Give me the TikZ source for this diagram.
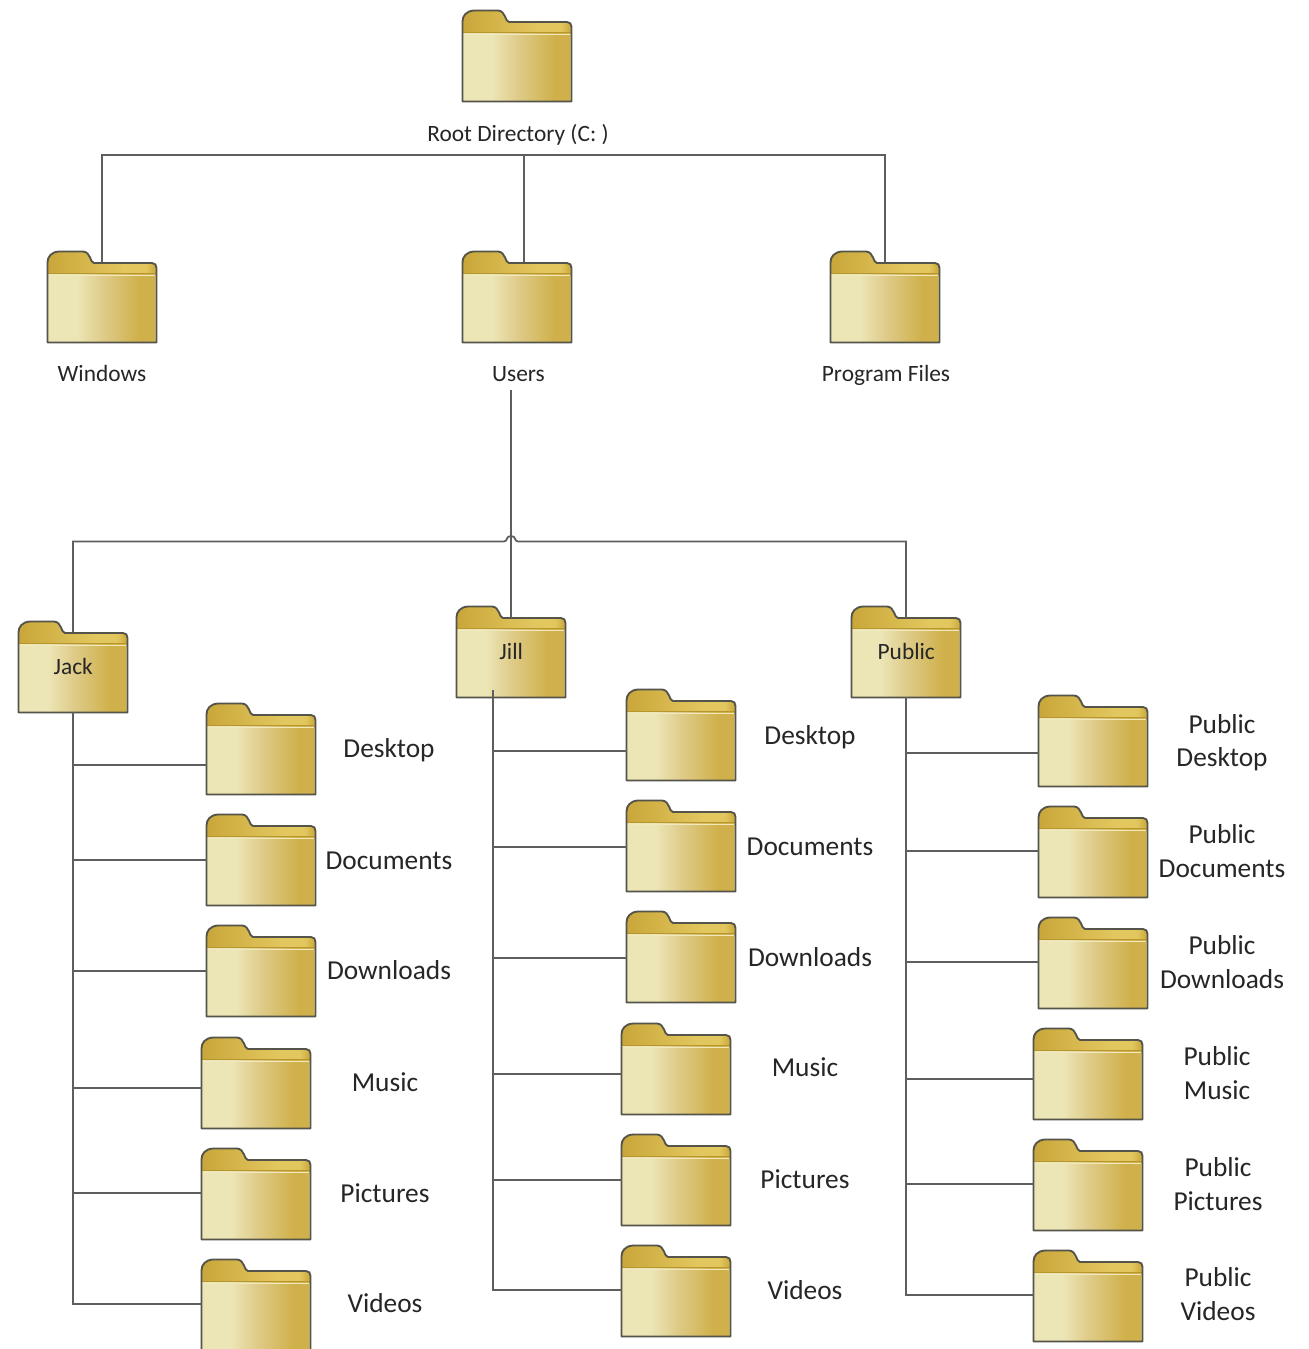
\documentclass[tikz,border=0pt]{standalone}
\usepackage{fontspec}
\setmainfont{Carlito}
\definecolor{fline}{HTML}{55544A}
\definecolor{wire}{HTML}{5E5E5E}
\definecolor{tabA}{HTML}{C9A63A}
\definecolor{tabB}{HTML}{E2C75E}
\definecolor{tabEdge}{HTML}{B8962E}
\definecolor{hilite}{HTML}{F1E8BC}
\definecolor{hiliteB}{HTML}{E6D68E}
\definecolor{txt}{HTML}{262626}
\definecolor{fl}{HTML}{ECE6B6}
\definecolor{fm}{HTML}{DFCC8A}
\definecolor{fd}{HTML}{CFB04A}
\pgfdeclarehorizontalshading{fbody}{100bp}{color(0bp)=(fl);color(25bp)=(fl);color(38bp)=(fl);color(50bp)=(fm);color(67bp)=(fd);color(100bp)=(fd)}
\pgfdeclarehorizontalshading{ftab}{100bp}{color(0bp)=(tabA);color(25bp)=(tabA);color(60bp)=(tabB);color(70bp)=(tabB);color(75bp)=(tabA);color(100bp)=(tabA)}
\tikzset{
  folderfront/.style={shading=fbody,rectangle,inner sep=0pt,minimum width=81.75bp,minimum height=51.4bp,anchor=north west,text=txt,font=\fontsize{17.6}{20}\selectfont},
  foldertab/.style={shading=ftab},
  folderedge/.style={draw=fline,line width=1.4pt,line join=round},
  smalllabel/.style={text=txt,font=\fontsize{17.6}{20}\selectfont,inner sep=0pt,align=center},
  biglabel/.style={text=txt,font=\fontsize{20.6}{25}\selectfont,inner sep=0pt,align=center},
  wireline/.style={draw=wire,line width=1.3pt},
}
% \folder{name}{left}{top}{text inside}
\newcommand{\folder}[4]{%
  \path[foldertab] (#2+0.5,#3+11.5) -- (#2+0.5,#3+23) -- (#2+109.5,#3+23) -- (#2+109.5,#3+17) .. controls (#2+109.5,#3+14) and (#2+108,#3+12) .. (#2+105,#3+12)
     -- (#2+47,#3+12) .. controls (#2+43,#3+12) and (#2+44,#3+1) .. (#2+36,#3+0.5)
     -- (#2+12,#3+0.5) .. controls (#2+4,#3+1) and (#2+0.5,#3+6) .. (#2+0.5,#3+11.5) -- cycle;
  \draw[tabEdge,line width=0.9pt] (#2+1,#3+22.5) -- (#2+109,#3+22.5);
  \node[folderfront] (#1) at (#2+0.5,#3+23) {\raisebox{3bp}[0pt][0pt]{#4}};
  \draw[hilite,line width=0.9pt] (#2+1,#3+24.5) -- (#2+108,#3+24.5);
  \draw[hiliteB,line width=0.7pt] (#2+108,#3+24.5) -- (#2+108,#3+90);
  \path[folderedge] (#2+0.5,#3+11.5) -- (#2+0.5,#3+91.5) -- (#2+109.5,#3+91.5) -- (#2+109.5,#3+17) .. controls (#2+109.5,#3+14) and (#2+108,#3+12) .. (#2+105,#3+12)
     -- (#2+47,#3+12) .. controls (#2+43,#3+12) and (#2+44,#3+1) .. (#2+36,#3+0.5)
     -- (#2+12,#3+0.5) .. controls (#2+4,#3+1) and (#2+0.5,#3+6) .. (#2+0.5,#3+11.5) -- cycle;
}
\begin{document}
\begin{tikzpicture}[x=0.75bp,y=-0.75bp]
\useasboundingbox (0,0) rectangle (1309,1349);
\fill[white] (0,0) rectangle (1309,1349);
\clip (0,0) rectangle (1309,1349);

\coordinate (busRootL) at (102,155);
\coordinate (busRootR) at (885,155);
\coordinate (busRootM) at (524,155);
\coordinate (busUserL) at (73,541.5);
\coordinate (busUserR) at (906,541.5);
\coordinate (jA) at (504,541.5);
\coordinate (jB) at (518,541.5);
\coordinate (usersOut) at (511,390);
\coordinate (jillIn) at (511,618);
\coordinate (jackIn) at (73,632);
\coordinate (publicIn) at (906,618);
\coordinate (winIn) at (102,262);
\coordinate (usersIn) at (524,262);
\coordinate (progIn) at (885,262);

\folder{root}{462}{10}{}
\folder{windows}{47}{251}{}
\folder{users}{462}{251}{}
\folder{program}{830}{251}{}
\folder{jack}{18}{621}{Jack}
\folder{jill}{456}{606}{Jill}
\folder{public}{851}{606}{Public}

\folder{jackA}{206}{703}{}
\folder{jackB}{206}{814}{}
\folder{jackC}{206}{925}{}
\folder{jackD}{201}{1037}{}
\folder{jackE}{201}{1148}{}
\folder{jackF}{201}{1259}{}

\folder{jillA}{626}{689}{}
\folder{jillB}{626}{800}{}
\folder{jillC}{626}{911}{}
\folder{jillD}{621}{1023}{}
\folder{jillE}{621}{1134}{}
\folder{jillF}{621}{1245}{}

\folder{pubA}{1038}{695}{}
\folder{pubB}{1038}{806}{}
\folder{pubC}{1038}{917}{}
\folder{pubD}{1033}{1028}{}
\folder{pubE}{1033}{1139}{}
\folder{pubF}{1033}{1250}{}

% upper tree
\draw[wireline] (winIn) -- (busRootL) -- (busRootR) -- (progIn);
\draw[wireline] (busRootM) -- (usersIn);
% second tree
\draw[wireline] (jackIn) -- (busUserL) -- (jA) .. controls (508,541.5) and (505.5,536) .. (511,536) .. controls (516.5,536) and (514,541.5) .. (jB) -- (busUserR) -- (publicIn);
\draw[wireline] (usersOut) -- (jillIn);

% Jack branches
\coordinate (jackT) at (73,712);
\draw[wireline] (jackT) |- (jackF.west |- 0,1304);
\foreach \n/\y in {jackA/765,jackB/860,jackC/971,jackD/1088,jackE/1193}
  \draw[wireline] (73,\y) -- (\n.west |- 0,\y);
% Jill branches
\coordinate (jillT) at (493,690);
\draw[wireline] (jillT) |- (jillF.west |- 0,1290);
\foreach \n/\y in {jillA/751,jillB/847,jillC/958,jillD/1074,jillE/1180}
  \draw[wireline] (493,\y) -- (\n.west |- 0,\y);
% Public branches
\coordinate (pubT) at (906,697);
\draw[wireline] (pubT) |- (pubF.west |- 0,1295);
\foreach \n/\y in {pubA/753,pubB/851,pubC/962,pubD/1079,pubE/1184}
  \draw[wireline] (906,\y) -- (\n.west |- 0,\y);

% labels
\node[smalllabel] (lroot) at (518,135) {Root Directory (C: )};
\node[smalllabel] (lwin) at (102,373) {Windows};
\node[smalllabel] (lusers) at (518.5,374) {Users};
\node[smalllabel] (lprog) at (886,375) {Program Files};

\foreach \k/\x/\y/\t in {a/389/750/Desktop,b/389/861/Documents,c/389/970/Downloads,d/385/1082/Music,e/385/1193/Pictures,f/385/1303/Videos,
   g/810/737/Desktop,h/810/847/Documents,i/810/957/Downloads,j/805/1067/Music,k/805/1179/Pictures,l/805/1290/Videos}
  \node[biglabel] (lab\k) at (\x,\y) {\t};

\node[biglabel] (lpa) at (1222,742.5) {Public\\Desktop};
\node[biglabel] (lpb) at (1222,851) {Public\\Documents};
\node[biglabel] (lpc) at (1222,962) {Public\\Downloads};
\node[biglabel] (lpd) at (1217,1073) {Public\\Music};
\node[biglabel] (lpe) at (1218,1184) {Public\\Pictures};
\node[biglabel] (lpf) at (1218,1294) {Public\\Videos};
\end{tikzpicture}
\end{document}
